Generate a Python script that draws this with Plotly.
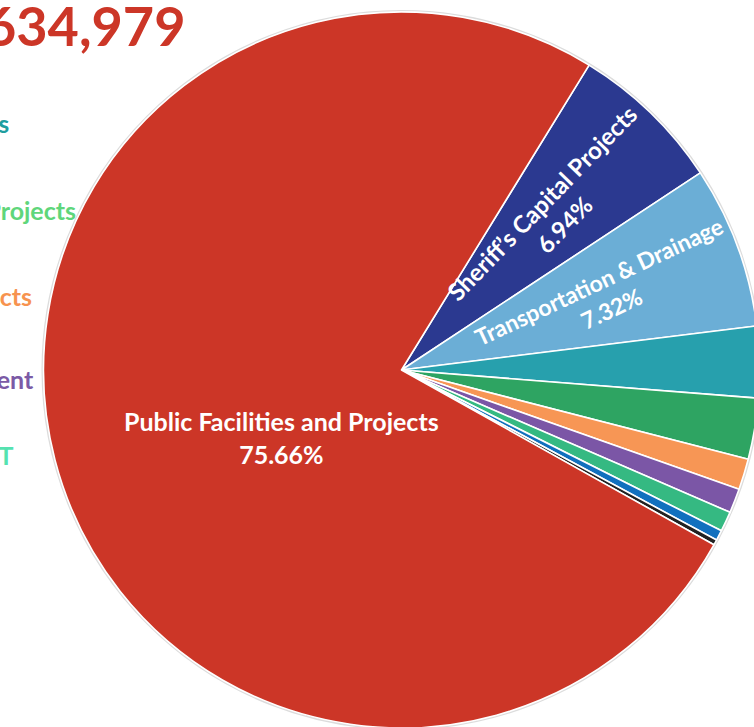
import math
import plotly.graph_objects as go

W, H = 760, 728            # figure (slightly larger than the 754x727 window: pie is clipped like the reference)

# ---- data ----
labels = [
    "Sheriff’s Capital Projects",
    "Transportation & Drainage",
    "Parks & Recreation Facilities",
    "Library Capital Projects",
    "Fire District Projects",
    "Economic Development",
    "Technology / IT",
    "Other Projects",
    "Miscellaneous",
    "Public Facilities and Projects",
]
values = [6.94, 7.32, 3.22, 2.75, 1.40, 1.10, 0.90, 0.47, 0.24, 75.66]
slice_colors = ["#2B3990", "#6BAED6", "#27A0AD", "#2EA462", "#F79655",
                "#7B56A6", "#35B982", "#1170BE", "#222222", "#CC3627"]
labelled = [0, 1, 9]

legend_labels = labels[2:7]
legend_colors = ["#1F9E9F", "#5FD67B", "#F7934F", "#7B5AA6", "#55E2B0"]

title_text = "$101,634,979"
footer_text = "FY 2025 Capital Budget"

# ---- geometry (layout only) ----
ROT = 31.6
PIE_L, PIE_T = 43, 12
dom_x = [PIE_L / W, 1.0]
dom_y = [0.0, 1 - PIE_T / H]
dw = W - PIE_L
dh = H - PIE_T
R = min(dw, dh) / 2
CX = PIE_L + dw / 2
CY = PIE_T + dh / 2

fig = go.Figure(
    go.Pie(
        labels=labels,
        values=values,
        sort=False,
        direction="clockwise",
        rotation=ROT,
        marker=dict(colors=slice_colors, line=dict(color="white", width=1.6)),
        textinfo="none",
        hoverinfo="label+percent",
        domain=dict(x=dom_x, y=dom_y),
        showlegend=False,
    )
)

# faint grey rim around the pie
fig.add_shape(
    type="circle", xref="paper", yref="paper", layer="below",
    x0=(CX - R - 1) / W, x1=(CX + R + 1) / W,
    y0=1 - (CY + R + 1) / H, y1=1 - (CY - R - 1) / H,
    line=dict(color="#DCDCDC", width=2), fillcolor="rgba(0,0,0,0)",
)

annotations = [
    dict(text=title_text, x=187 / W, y=1 - 26 / H, xref="paper", yref="paper",
         xanchor="right", yanchor="middle", showarrow=False,
         font=dict(family="Lato", size=54, color="#CC3627", weight="bold")),
    dict(text=footer_text, x=693 / W, y=1 - 724 / H, xref="paper", yref="paper",
         xanchor="left", yanchor="top", showarrow=False,
         font=dict(family="Lato", size=18, color="#777777", weight="bold")),
]

legend_y = [123, 210, 296, 379, 455]
legend_x = [11, 78, 34, 36, 15]
for lab, col, yy, xx in zip(legend_labels, legend_colors, legend_y, legend_x):
    annotations.append(dict(
        text=lab, x=xx / W, y=1 - yy / H, xref="paper", yref="paper",
        xanchor="right", yanchor="middle", showarrow=False,
        font=dict(family="Lato", size=25, color=col, weight="bold")))

# slice labels placed from the data (mid-angle of each slice)
total = sum(values)
cum = 0.0
mids = []
for v in values:
    mids.append(ROT + (cum + v / 2) / total * 360)
    cum += v

label_style = {
    0: dict(rf=0.61, angle=None, size=24, dy=0),
    1: dict(rf=0.605, angle=-25, size=23, dy=0),
    9: dict(rf=0.345, angle=0, size=25, dy=36),
}
for i in labelled:
    st = label_style[i]
    th = math.radians(mids[i])
    px = CX + R * st["rf"] * math.sin(th)
    py = CY - R * st["rf"] * math.cos(th) + st["dy"]
    ang = -(90 - mids[i]) if st["angle"] is None else st["angle"]
    annotations.append(dict(
        text=f"{labels[i]}<br>{values[i] / total * 100:.2f}%",
        x=px / W, y=1 - py / H, xref="paper", yref="paper",
        xanchor="center", yanchor="middle", showarrow=False, align="center",
        textangle=ang,
        font=dict(family="Lato", size=st["size"], color="white", weight="bold")))

fig.update_layout(
    width=W, height=H,
    margin=dict(l=0, r=0, t=0, b=0),
    paper_bgcolor="white",
    plot_bgcolor="white",
    annotations=annotations,
)

fig.write_html(
    "out.html",
    config={"displayModeBar": False},
    post_script=(
        "document.documentElement.style.overflow='hidden';"
        "document.body.style.overflow='hidden';"
        "document.body.style.margin='0';"
    ),
)
